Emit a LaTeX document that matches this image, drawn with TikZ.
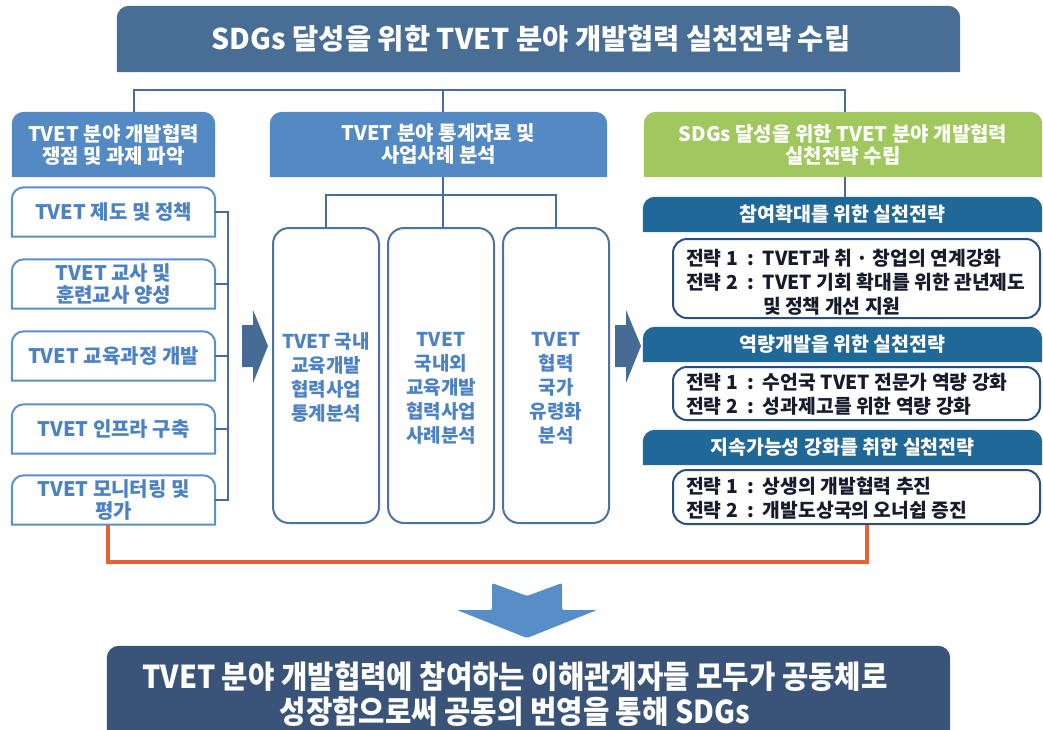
\documentclass[tikz,border=0pt]{standalone}
\usepackage{fontspec}
\setmainfont{Noto Sans CJK KR}
\newfontfamily\condfont{Noto Sans CJK KR}[FakeStretch=0.91]
\usetikzlibrary{backgrounds}
\definecolor{titleC}{RGB}{72,110,150}
\definecolor{headC}{RGB}{84,138,196}
\definecolor{greenC}{RGB}{160,200,95}
\definecolor{subC}{RGB}{32,104,152}
\definecolor{connC}{RGB}{72,108,156}
\definecolor{lboxC}{RGB}{92,143,204}
\definecolor{lTxtC}{RGB}{76,130,196}
\definecolor{mboxC}{RGB}{78,114,162}
\definecolor{cboxC}{RGB}{40,78,130}
\definecolor{cTxtC}{RGB}{22,28,44}
\definecolor{arrC}{RGB}{70,108,150}
\definecolor{orgC}{RGB}{228,98,52}
\definecolor{darrC}{RGB}{88,142,200}
\definecolor{botC}{RGB}{58,84,121}
\newcommand\toprect[2]{\path[#2] (#1.south west) [rounded corners=12pt] -- (#1.north west) -- (#1.north east) [sharp corners] -- (#1.south east) -- cycle;}
\newcommand\cln{\hspace{0.5em}:\hspace{0.45em}}
\begin{document}
\begin{tikzpicture}[x=1pt,y=-1pt,
  every node/.style={inner sep=0pt, align=center},
  hdrtxt/.style={text=white, font=\bfseries\fontsize{20}{22}\selectfont, minimum height=65pt},
  lboxn/.style={text=lTxtC, font=\bfseries\fontsize{20}{22}\selectfont, minimum width=203pt, minimum height=49pt},
  mboxn/.style={draw=mboxC, line width=2pt, rounded corners=16pt, minimum width=106pt, minimum height=295pt},
  mtxt/.style={text=lTxtC, font=\bfseries\fontsize{19}{24}\selectfont, anchor=north},
  subn/.style={text=white, font=\bfseries\fontsize{19.5}{22}\selectfont, minimum width=399pt, minimum height=35pt},
  cboxn/.style={draw=cboxC, line width=2pt, rounded corners=14pt, minimum width=367pt},
  ctxt/.style={text=cTxtC, font=\bfseries\fontsize{19.3}{24}\selectfont, align=left, anchor=west},
  conn/.style={draw=connC, line width=2pt}]
\useasboundingbox (0,0) rectangle (1043,729);
% title
\node[minimum width=843pt, minimum height=66pt] (title) at (538.5,39) {};
\node[text=white, font=\bfseries\fontsize{28.5}{32}\selectfont] (titlet) at (531,39) {SDGs 달성을 위한 TVET 분야 개발협력 실천전략 수립};
% headers
\node[hdrtxt, minimum width=203pt] (lh) at (113.5,144.5) {TVET 분야 개발협력\\쟁점 및 과제 파악};
\node[hdrtxt, minimum width=337pt] (mh) at (438.5,144.5) {TVET 분야 통계자료 및\\사업사례 분석};
\node[hdrtxt, minimum width=398pt] (rh) at (843,144.5) {SDGs 달성을 위한 TVET 분야 개발협력\\실천전략 수립};
% left boxes
\node[lboxn] (b1) at (113.5,212) {TVET 제도 및 정책};
\node[lboxn] (b2) at (113.5,284) {TVET 교사 및\\훈련교사 양성};
\node[lboxn] (b3) at (113.5,356) {TVET 교육과정 개발};
\node[lboxn] (b4) at (113.5,429) {TVET 인프라 구축};
\node[lboxn] (b5) at (113.5,500) {TVET 모니터링 및\\평가};
% middle boxes
\node[mboxn] (A) at (326,375.5) {};
\node[mboxn] (B) at (441,375.5) {};
\node[mboxn] (C) at (556,375.5) {};
\node[mtxt] (At) at (326,332) {TVET 국내\\교육개발\\협력사업\\통계분석};
\node[mtxt] (Bt) at (441,332) {TVET\\국내외\\교육개발\\협력사업\\사례분석};
\node[mtxt] (Ct) at (556,332) {TVET\\협력\\국가\\유령화\\분석};
% right column
\node[subn] (s1) at (842.5,214.5) {참여확대를 위한 실천전략};
\node[cboxn, minimum height=79pt] (c1) at (856.5,278.5) {};
\node[ctxt] (c1t) at ([xshift=14pt,yshift=-4pt]c1.west) {전략 1\cln TVET과 취 · 창업의 연계강화\\전략 2\cln TVET 기회 확대를 위한 관년제도\\\phantom{전략 2\cln}및 정책 개선 지원};
\node[subn] (s2) at (842.5,344.5) {역량개발을 위한 실천전략};
\node[cboxn, minimum height=53pt] (c2) at (856.5,393.5) {};
\node[ctxt] (c2t) at ([xshift=14pt,yshift=-1pt]c2.west) {전략 1\cln 수언국 TVET 전문가 역량 강화\\전략 2\cln 성과제고를 위한 역량 강화};
\node[subn] (s3) at (842.5,447.5) {지속가능성 강화를 취한 실천전략};
\node[cboxn, minimum height=54pt] (c3) at (856.5,497) {};
\node[ctxt] (c3t) at ([xshift=14pt,yshift=-1pt]c3.west) {전략 1\cln 상생의 개발협력 추진\\전략 2\cln 개발도상국의 오너쉽 증진};
% bottom
\node[minimum width=843pt, minimum height=97pt] (bot) at (528.5,694.5) {};
\node[text=white, font=\condfont\bfseries\fontsize{31.5}{35}\selectfont] (bott) at (515,694.5) {TVET 분야 개발협력에 참여하는 이해관계자들 모두가 공동체로\\성장함으로써 공동의 번영을 통해 SDGs};
% backgrounds
\begin{scope}[on background layer]
\toprect{title}{fill=titleC}
\toprect{lh}{fill=headC}
\toprect{mh}{fill=headC}
\toprect{rh}{fill=greenC}
\foreach \n in {b1,b2,b3,b4,b5} {\toprect{\n}{draw=lboxC, line width=2pt, fill=white}}
\foreach \n in {s1,s2,s3} {\toprect{\n}{fill=subC}}
\toprect{bot}{fill=botC}
\end{scope}
% connectors
\coordinate (busL) at (134,90);
\coordinate (busM) at (443,90);
\coordinate (busR) at (845,90);
\draw[conn] (busL |- lh.north) -- (busL) -- (busR) -- (busR |- rh.north);
\draw[conn] (busM) -- (busM |- mh.north);
\coordinate (mbus) at (443,195);
\draw[conn] (mbus |- mh.south) -- (mbus |- B.north);
\draw[conn] (A.north) -- (A.north |- mbus) -- (C.north |- mbus) -- (C.north);
\coordinate (brk) at (228,0);
\draw[conn] (b1.east) -- (b1.east -| brk) -- (b5.east -| brk) -- (b5.east);
\foreach \n in {b2,b3,b4} {\draw[conn] (\n.east) -- (\n.east -| brk);}
\draw[conn] (busR |- rh.south) -- (busR |- s1.north);
% arrows
\fill[arrC] (242,325) -- (253,325) -- (253,310) -- (268,346) -- (253,383) -- (253,367) -- (242,367) -- cycle;
\fill[arrC] (615,325) -- (626,325) -- (626,310) -- (641,346) -- (626,383) -- (626,367) -- (615,367) -- cycle;
% orange feedback line
\draw[orgC, line width=4pt] ([xshift=-6pt]b5.south) -- ++(0,37) -| ([xshift=10.5pt]c3.south);
% down arrow
\fill[darrC, rounded corners=1.5pt] (492,583) -- (527,596) -- (562,583) -- (562,610) -- (597,610) -- (527,638) -- (457,610) -- (492,610) -- cycle;
\end{tikzpicture}
\end{document}
